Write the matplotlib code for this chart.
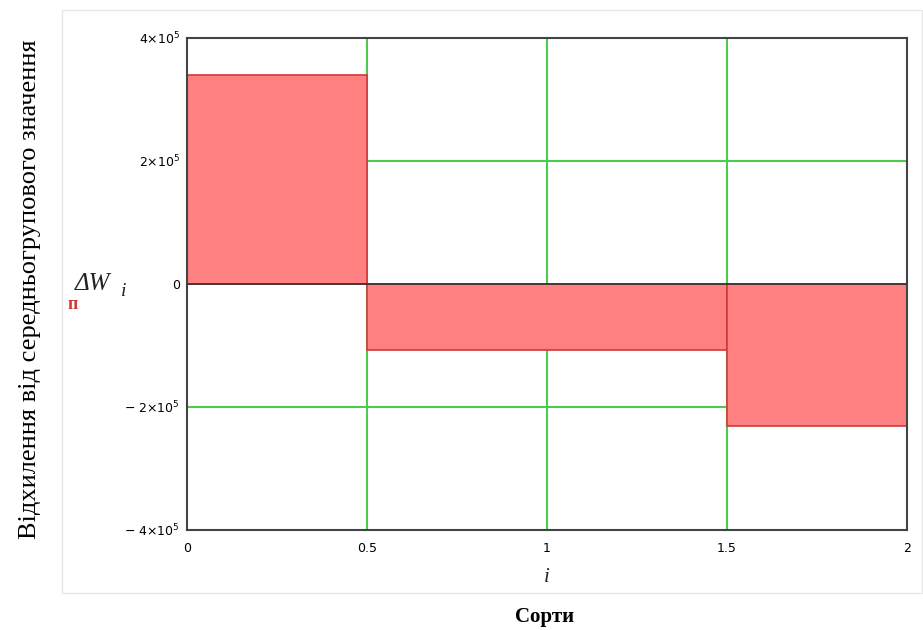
import matplotlib.pyplot as plt
from matplotlib.patches import Rectangle

# deviations from group mean for each sort
sorts = [0, 1, 2]
deltaW = [3.39e5, -1.08e5, -2.31e5]
xticks = [0, 0.5, 1, 1.5, 2]
xlabels = ['0', '0.5', '1', '1.5', '2']
yticks = [-4e5, -2e5, 0, 2e5, 4e5]
ylabels = ['\u2212 4\u00d710$^5$', '\u2212 2\u00d710$^5$', '0', '2\u00d710$^5$', '4\u00d710$^5$']

fig = plt.figure(figsize=(9.23, 6.3), dpi=100)
# light region frame like the Mathcad sheet
fig.patches.append(Rectangle((62 / 923, 1 - 593 / 630), 860 / 923, 583 / 630,
                             transform=fig.transFigure, fill=False,
                             edgecolor='#e6e6e6', lw=1))

ax = fig.add_axes([187 / 923, 1 - 529.5 / 630, 720 / 923, 491.5 / 630])

for x in [0.5, 1, 1.5]:
    ax.axvline(x, color='#4ccc4c', lw=1.5, zorder=1)
for y in [2e5, -2e5]:
    ax.axhline(y, color='#4ccc4c', lw=1.5, zorder=1)

ax.bar(sorts, deltaW, width=1.0, color='#ff8080', edgecolor='#d03a3a',
       lw=1.2, zorder=2)
ax.axhline(0, color='#333333', lw=1.2, zorder=3)

ax.set_xlim(0, 2)
ax.set_ylim(-4e5, 4e5)
ax.set_xticks(xticks)
ax.set_xticklabels(xlabels, fontsize=9, family='DejaVu Sans')
ax.set_yticks(yticks)
ax.set_yticklabels(ylabels, fontsize=9, family='DejaVu Sans')
ax.tick_params(axis='y', length=0, pad=5)
ax.tick_params(axis='x', length=0, pad=9)
for s in ax.spines.values():
    s.set_color('#444444')
    s.set_linewidth(1.5)

# Mathcad style axis names
fig.text(75 / 923, 1 - 284 / 630, '\u0394W', fontsize=18, style='italic',
         ha='left', va='center', family='Liberation Serif', color='#222222')
fig.text(121 / 923, 1 - 291 / 630, 'i', fontsize=14, style='italic',
         ha='left', va='center', family='Liberation Serif', color='#222222')
fig.text(73 / 923, 1 - 304 / 630, '\u043f', fontsize=13, color='#d03a3a',
         ha='center', va='center', family='Liberation Serif', weight='bold')
fig.text(547 / 923, 1 - 578 / 630, 'i', fontsize=15, style='italic',
         ha='center', va='center', family='Liberation Serif', color='#222222')

fig.text(545 / 923, 1 - 617 / 630, 'Сорти', fontsize=15, weight='bold',
         ha='center', va='center', family='Liberation Serif')
fig.text(30 / 923, 1 - 289 / 630, 'Відхилення від середньогрупового значення',
         fontsize=19, rotation=90, ha='center', va='center',
         family='Liberation Serif')

fig.savefig('out.png', dpi=100)
